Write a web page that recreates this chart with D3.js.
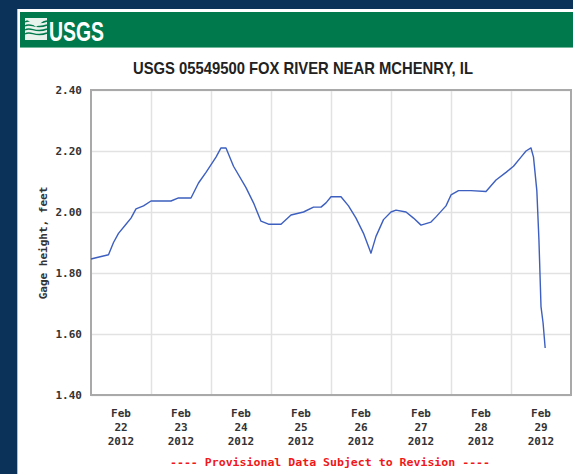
<!DOCTYPE html>
<html>
<head>
<meta charset="utf-8">
<script src="https://cdn.jsdelivr.net/npm/d3@7"></script>
<style>
  html, body { margin: 0; padding: 0; background: #0b3259; }
  svg { display: block; }
</style>
</head>
<body>
<svg id="chart" width="573" height="474"></svg>
<script>
// gage height readings, Feb 22 - Feb 29 2012
var times = [
  "2012-02-22 00:00", "2012-02-22 02:00", "2012-02-22 07:00", "2012-02-22 09:00",
  "2012-02-22 11:00", "2012-02-22 14:00", "2012-02-22 16:00", "2012-02-22 18:00",
  "2012-02-22 21:00", "2012-02-23 00:00", "2012-02-23 08:00", "2012-02-23 11:00",
  "2012-02-23 16:00", "2012-02-23 19:00", "2012-02-23 22:00", "2012-02-24 02:00",
  "2012-02-24 04:00", "2012-02-24 06:00", "2012-02-24 09:00", "2012-02-24 14:00",
  "2012-02-24 17:00", "2012-02-24 20:00", "2012-02-24 23:00", "2012-02-25 04:00",
  "2012-02-25 08:00", "2012-02-25 13:00", "2012-02-25 17:00", "2012-02-25 20:00",
  "2012-02-25 22:00", "2012-02-26 00:00", "2012-02-26 04:00", "2012-02-26 07:00",
  "2012-02-26 10:00", "2012-02-26 13:00", "2012-02-26 16:00", "2012-02-26 18:00",
  "2012-02-26 21:00", "2012-02-27 00:00", "2012-02-27 02:00", "2012-02-27 06:00",
  "2012-02-27 09:00", "2012-02-27 12:00", "2012-02-27 16:00", "2012-02-27 18:00",
  "2012-02-27 22:00", "2012-02-28 00:00", "2012-02-28 03:00", "2012-02-28 08:00",
  "2012-02-28 14:00", "2012-02-28 18:00", "2012-02-28 22:00", "2012-02-29 01:00",
  "2012-02-29 04:00", "2012-02-29 06:00", "2012-02-29 08:00", "2012-02-29 09:00",
  "2012-02-29 10:20", "2012-02-29 11:10", "2012-02-29 12:00", "2012-02-29 12:50",
  "2012-02-29 13:40"
];
var gage = [
  1.846, 1.85, 1.86, 1.90,
  1.93, 1.96, 1.98, 2.01,
  2.02, 2.036, 2.036, 2.046,
  2.046, 2.095, 2.13, 2.18,
  2.21, 2.21, 2.15, 2.08,
  2.03, 1.97, 1.96, 1.96,
  1.99, 2.00, 2.016, 2.016,
  2.03, 2.05, 2.05, 2.02,
  1.98, 1.93, 1.865, 1.92,
  1.975, 2.00, 2.006, 2.00,
  1.98, 1.957, 1.967, 1.984,
  2.02, 2.056, 2.07, 2.07,
  2.067, 2.105, 2.13, 2.15,
  2.18, 2.20, 2.21, 2.18,
  2.07, 1.91, 1.69, 1.636,
  1.554
];
var yTicks = [1.40, 1.60, 1.80, 2.00, 2.20, 2.40];
var dayLabels = ["22", "23", "24", "25", "26", "27", "28", "29"];
var monthLabel = "Feb";
var yearLabel = "2012";

var parse = d3.utcParse("%Y-%m-%d %H:%M");
var data = times.map(function(t, i) { return { t: parse(t), v: gage[i] }; });

var svg = d3.select("#chart");
var mono = "'DejaVu Sans Mono', 'Liberation Mono', monospace";
var narrow = "'Liberation Sans Narrow', 'Liberation Sans', Arial, sans-serif";

// page frame
svg.append("rect").attr("x", 17).attr("y", 9).attr("width", 556).attr("height", 465).attr("fill", "#fff");
svg.append("line").attr("x1", 17.5).attr("x2", 17.5).attr("y1", 9).attr("y2", 474).attr("stroke", "#b8bcc2").attr("stroke-width", 1);
svg.append("rect").attr("x", 20).attr("y", 12).attr("width", 553).attr("height", 36).attr("fill", "#007a4d");
svg.append("line").attr("x1", 20).attr("x2", 573).attr("y1", 47.5).attr("y2", 47.5).attr("stroke", "#6fb89a").attr("stroke-width", 1);

// logo
var logo = svg.append("g").attr("transform", "translate(25,18)");
logo.append("rect").attr("width", 22).attr("height", 22).attr("fill", "#e9f3ee");
[4, 8, 12, 16].forEach(function(dy) {
  logo.append("path")
    .attr("d", "M0," + dy + " C6," + (dy - 4) + " 10," + (dy + 4) + " 22," + (dy - 1))
    .attr("fill", "none").attr("stroke", "#007a4d").attr("stroke-width", 1.4);
});
logo.append("path").attr("d", "M0,0 L11,9 L22,0 Z").attr("fill", "#e9f3ee");
svg.append("text").attr("x", 49).attr("y", 41)
  .attr("font-family", narrow)
  .attr("font-weight", "bold").attr("font-size", 27).attr("fill", "#fff")
  .attr("textLength", 55).attr("lengthAdjust", "spacingAndGlyphs")
  .text("USGS");

// title
svg.append("text").attr("x", 303).attr("y", 74).attr("text-anchor", "middle")
  .attr("font-family", narrow)
  .attr("font-weight", "bold").attr("font-size", 17).attr("fill", "#222")
  .attr("textLength", 340).attr("lengthAdjust", "spacingAndGlyphs")
  .text("USGS 05549500 FOX RIVER NEAR MCHENRY, IL");

// plot area
var plotL = 91, plotR = 571, plotT = 90, plotB = 395;
var x = d3.scaleUtc()
  .domain([parse("2012-02-22 00:00"), parse("2012-03-01 00:00")])
  .range([plotL, plotR]);
var y = d3.scaleLinear().domain([1.40, 2.40]).range([plotB, plotT]);

var days = d3.utcDay.range(parse("2012-02-22 00:00"), parse("2012-03-01 00:00"));
var noons = days.map(function(d) { return d3.utcHour.offset(d, 12); });

// grid
svg.append("g").selectAll("line").data(yTicks).join("line")
  .attr("x1", plotL).attr("x2", plotR)
  .attr("y1", function(d) { return Math.round(y(d)) + 0.5; })
  .attr("y2", function(d) { return Math.round(y(d)) + 0.5; })
  .attr("stroke", "#e2e2e2").attr("stroke-width", 1.5);
svg.append("g").selectAll("line").data(days.slice(1)).join("line")
  .attr("x1", function(d) { return Math.round(x(d)) + 0.5; })
  .attr("x2", function(d) { return Math.round(x(d)) + 0.5; })
  .attr("y1", plotT).attr("y2", plotB)
  .attr("stroke", "#e2e2e2").attr("stroke-width", 1.5);

// frame
svg.append("rect").attr("x", plotL).attr("y", plotT).attr("width", plotR - plotL).attr("height", plotB - plotT)
  .attr("fill", "none").attr("stroke", "#a9a9a9").attr("stroke-width", 2);

// y axis labels
var yAxis = d3.axisLeft(y).tickValues(yTicks).tickFormat(d3.format(".2f")).tickSize(0).tickPadding(9);
var yg = svg.append("g").attr("transform", "translate(" + plotL + ",0)").call(yAxis);
yg.select(".domain").remove();
yg.selectAll("text").attr("font-family", mono).attr("font-weight", "bold")
  .attr("font-size", 11).attr("fill", "#333");

svg.append("text")
  .attr("transform", "translate(47,243) rotate(-90)")
  .attr("text-anchor", "middle")
  .attr("font-family", mono).attr("font-weight", "bold").attr("font-size", 11).attr("fill", "#333")
  .text("Gage height, feet");

// x axis labels
var xg = svg.append("g");
noons.forEach(function(d, i) {
  var t = xg.append("text").attr("x", x(d)).attr("y", 417).attr("text-anchor", "middle")
    .attr("font-family", mono).attr("font-weight", "bold").attr("font-size", 11).attr("fill", "#333");
  t.append("tspan").attr("x", x(d)).attr("dy", 0).text(monthLabel);
  t.append("tspan").attr("x", x(d)).attr("dy", 14).text(dayLabels[i]);
  t.append("tspan").attr("x", x(d)).attr("dy", 14).text(yearLabel);
});

// data line
var line = d3.line().x(function(d) { return x(d.t); }).y(function(d) { return y(d.v); });
svg.append("path").datum(data)
  .attr("d", line)
  .attr("fill", "none").attr("stroke", "#3d5fbf").attr("stroke-width", 1.4)
  .attr("stroke-linejoin", "round");

// provisional note
svg.append("text").attr("x", 330).attr("y", 466).attr("text-anchor", "middle")
  .attr("font-family", mono).attr("font-weight", "bold").attr("font-size", 11).attr("fill", "#f01818")
  .attr("textLength", 320).attr("lengthAdjust", "spacingAndGlyphs")
  .text("---- Provisional Data Subject to Revision ----");
</script>
</body>
</html>
